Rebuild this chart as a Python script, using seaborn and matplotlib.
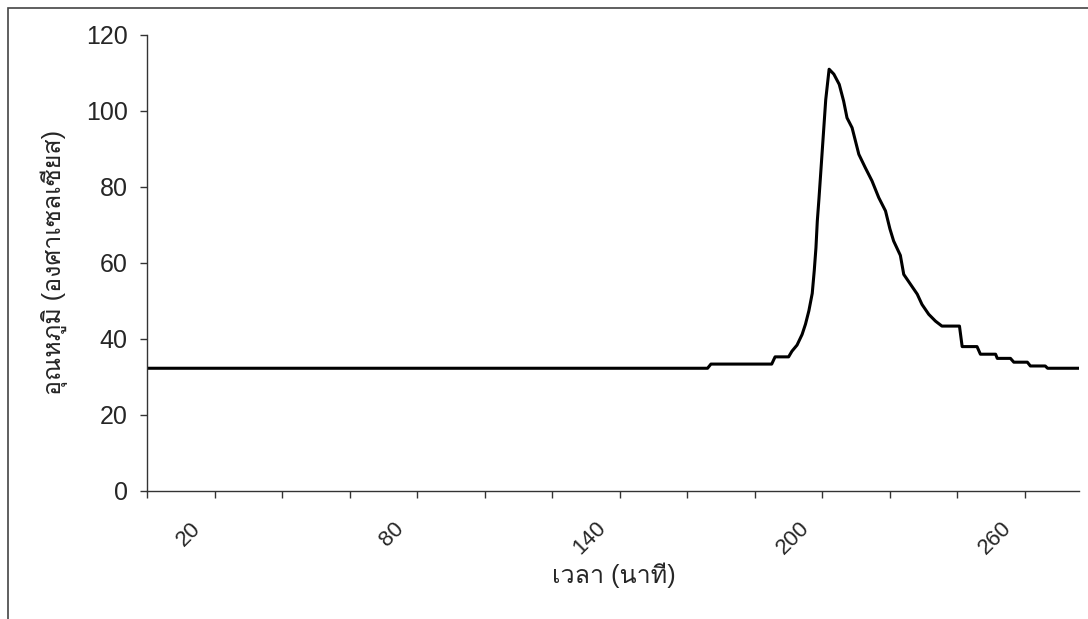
import matplotlib
matplotlib.use("Agg")
import matplotlib.pyplot as plt
from matplotlib import font_manager
from matplotlib.ft2font import FT2Font
from matplotlib.patches import Rectangle
from matplotlib.transforms import ScaledTranslation
import seaborn as sns
import pandas as pd

# Temperature log (minutes, degrees Celsius)
time_min = [0, 166, 167, 185, 186, 190, 191, 192.5, 194, 195, 196, 197, 197.6,
            198.1, 198.5, 199, 200, 201, 202, 203.4, 205, 206.3, 207.3, 208.8,
            209.8, 210.8, 212.7, 214.7, 216.7, 218.7, 220, 221.1, 223.1, 224.1,
            226.1, 228.1, 229.5, 231.5, 233.5, 235.4, 240.6, 241.4, 245.8, 246.8,
            251.3, 251.8, 255.7, 256.7, 260.7, 261.6, 266, 266.7, 276]
temp_c = [32.3, 32.3, 33.4, 33.4, 35.3, 35.3, 36.8, 38.4, 41.2, 43.9, 47.4, 52, 58,
          64, 71, 77, 90, 103, 111, 109.7, 107, 102.6, 98.2, 95.6,
          92.1, 88.6, 85.1, 81.6, 77.2, 73.7, 69, 65.8, 62, 57,
          54.4, 51.8, 49.1, 46.5, 44.7, 43.4, 43.4, 38, 38, 36,
          36, 34.9, 34.9, 33.9, 33.9, 32.9, 32.9, 32.3, 32.3]

x_ticks = list(range(0, 261, 20))
x_labels = ["20", "80", "140", "200", "260"]
y_ticks = [0, 20, 40, 60, 80, 100, 120]
x_title = "เวลา (นาที)"
y_title = "อุณหภูมิ (องศาเซลเซียส)"


def find_thai_font():
    for f in font_manager.fontManager.ttflist:
        try:
            cmap = FT2Font(f.fname).get_charmap()
        except Exception:
            continue
        if 0x0E01 in cmap and 0x0E2D in cmap and 0x0E38 in cmap:
            return f.name
    return None


sns.set_style("white")
thai = find_thai_font()
families = ["Liberation Sans"] + ([thai] if thai else []) + ["DejaVu Sans"]
plt.rcParams["font.family"] = families

W, H = 1088, 619
fig = plt.figure(figsize=(W / 100, H / 100), dpi=100)
ax = fig.add_axes([147 / W, 1 - 491 / H, (1079 - 147) / W, (491 - 35) / H])

df = pd.DataFrame({"time": time_min, "temp": temp_c})
sns.lineplot(data=df, x="time", y="temp", ax=ax, color="black", linewidth=2.2)

ax.set_xlim(0, 276)
ax.set_ylim(0, 120)
ax.set_xticks(x_ticks)
ax.set_yticks(y_ticks)
ax.tick_params(axis="both", direction="out", length=5, width=1, color="#333333",
               left=True, bottom=True)
ax.tick_params(axis="y", pad=9)

ax.set_xticklabels([str(t) if str(t) in x_labels else "" for t in x_ticks],
                   rotation=45, ha="right", va="top", rotation_mode="anchor",
                   fontsize=16)
ax.set_yticklabels([str(v) for v in y_ticks], fontsize=18)

# slanted time labels sit a little left of and below their ticks
shift = ScaledTranslation(-24 / 100, -15 / 100, fig.dpi_scale_trans)
for tick in ax.xaxis.get_major_ticks():
    tick.label1.set_transform(tick.label1.get_transform() + shift)

for side in ("top", "right"):
    ax.spines[side].set_visible(False)
for side in ("left", "bottom"):
    ax.spines[side].set_color("#333333")
    ax.spines[side].set_linewidth(1.0)

ax.set_xlabel(x_title, fontsize=18)
ax.set_ylabel(y_title, fontsize=18)
ax.xaxis.set_label_coords((614 - 147) / 932, (491 - 563) / 456)
ax.yaxis.set_label_coords((68 - 147) / 932, (491 - 262) / 456)

# outer chart border
fig.patches.append(Rectangle((8 / W, -0.1), 1.2, 1.1 - 8 / H, transform=fig.transFigure,
                             fill=False, edgecolor="#444444", linewidth=1.2))

fig.savefig("out.png", dpi=100)
